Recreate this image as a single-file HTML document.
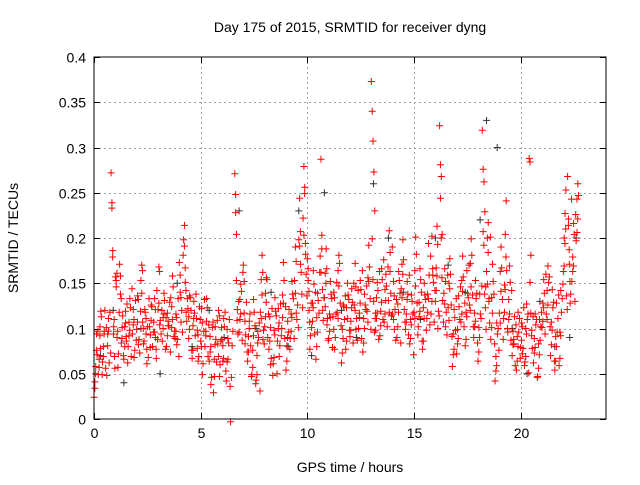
<!DOCTYPE html>
<html><head><meta charset="utf-8"><style>
body{margin:0;background:#fff;width:640px;height:480px;overflow:hidden}
svg text{font-family:"Liberation Sans",sans-serif;font-size:14px;fill:#000}
</style></head><body>
<svg id="chart" width="640" height="480">
<text x="350" y="32" text-anchor="middle">Day 175 of 2015, SRMTID for receiver dyng</text>
<text x="350" y="472" text-anchor="middle">GPS time / hours</text>
<text transform="translate(18,238) rotate(-90)" text-anchor="middle">SRMTID / TECUs</text>
<g id="grid"></g>
<g id="ticks"></g>
<g id="black"></g>
<g id="red"></g>
<rect x="94" y="57" width="512" height="362" fill="none" stroke="#000" stroke-width="1"/>
</svg>
<script>
const xTicks=[0,5,10,15,20];
const yTicks=[0,0.05,0.1,0.15,0.2,0.25,0.3,0.35,0.4];
const yTickLabels=["0","0.05","0.1","0.15","0.2","0.25","0.3","0.35","0.4"];
const redStart=0, redStep=0.2;
const redV=[
[0.02,0.04,0.06,0.09],[0.05,0.07,0.1,0.12],[0.06,0.08,0.1],[0.05,0.09,0.11],[0.27,0.24,0.19,0.1,0.07],
[0.16,0.15,0.09,0.06],[0.17,0.14,0.08,0.1],[0.07,0.1,0.12,0.09],[0.08,0.11,0.13],[0.09,0.12,0.07],
[0.1,0.14,0.08],[0.15,0.17,0.11,0.08],[0.12,0.09,0.06],[0.1,0.08,0.13],[0.11,0.13,0.09,0.07],
[0.12,0.17,0.1],[0.09,0.11,0.14],[0.08,0.12,0.1],[0.13,0.1,0.16],[0.09,0.12,0.08],
[0.17,0.14,0.11],[0.2,0.21,0.15,0.12],[0.12,0.09,0.14],[0.07,0.1,0.13],[0.11,0.08,0.06],
[0.09,0.12,0.05],[0.08,0.1,0.13],[0.06,0.09,0.04],[0.03,0.07,0.1],[0.08,0.12,0.05],
[0.09,0.06,0.11],[0.04,0.1,0.07],[0.0],[0.27,0.25,0.2,0.12],[0.1,0.13,0.15],
[0.17,0.12,0.08],[0.06,0.09,0.11],[0.05,0.08,0.13],[0.04,0.07,0.1],[0.12,0.15,0.18,0.09],
[0.1,0.14,0.16],[0.08,0.11,0.06],[0.06,0.1,0.13],[0.09,0.12,0.07],[0.1,0.14,0.17],
[0.05,0.08,0.11],[0.09,0.12,0.15],[0.15,0.19,0.12],[0.2,0.24,0.17],[0.22,0.28,0.26,0.18],
[0.18,0.15,0.12,0.08],[0.1,0.13,0.16],[0.07,0.11,0.14],[0.18,0.29,0.2,0.12],[0.13,0.16,0.19,0.1],
[0.09,0.12,0.15],[0.11,0.14,0.08],[0.12,0.16,0.18],[0.06,0.1,0.13],[0.08,0.12,0.15],
[0.09,0.11,0.14],[0.13,0.17,0.1],[0.1,0.12,0.15],[0.07,0.11,0.14],[0.12,0.16,0.19],
[0.37,0.34,0.31,0.27,0.23,0.12],[0.1,0.13,0.15],[0.09,0.12,0.17],[0.11,0.14,0.16],[0.13,0.21,0.18],
[0.12,0.15,0.1],[0.09,0.13,0.16],[0.14,0.17,0.2],[0.1,0.12,0.15],[0.08,0.11,0.14],
[0.12,0.16,0.2],[0.1,0.13,0.17],[0.08,0.12,0.15],[0.11,0.14,0.19],[0.12,0.2,0.16],
[0.13,0.17,0.21,0.1],[0.32,0.28,0.27,0.2],[0.14,0.17,0.1],[0.12,0.15,0.18],[0.06,0.09,0.12],
[0.07,0.1,0.14],[0.11,0.15,0.18],[0.08,0.12,0.16],[0.13,0.17,0.2],[0.09,0.12,0.15],
[0.06,0.1,0.14],[0.32,0.28,0.26,0.23,0.15],[0.16,0.2,0.22,0.13],[0.09,0.13,0.17],[0.04,0.07,0.11],
[0.12,0.16,0.19],[0.11,0.15,0.2,0.24],[0.1,0.13,0.17],[0.07,0.1,0.08],[0.05,0.09,0.12],
[0.08,0.11,0.07],[0.06,0.1,0.13],[0.29,0.28,0.18,0.1],[0.06,0.09,0.12],[0.05,0.08,0.11],
[0.1,0.13,0.15],[0.12,0.14,0.17],[0.07,0.11,0.14],[0.05,0.09,0.13],[0.06,0.1,0.14],
[0.16,0.2,0.23,0.25],[0.27,0.21,0.17,0.13],[0.15,0.18,0.22],[0.2,0.24,0.26]
];
const red2Start=0.1;
const redV2=[
[0.03,0.05,0.08,0.07,0.1],[0.06,0.09,0.08,0.11,0.05],[0.07,0.09,0.12,0.06,0.1],[0.08,0.1,0.06,0.12,0.07],[0.23,0.18,0.09,0.11,0.06],
[0.15,0.16,0.1,0.07,0.12],[0.16,0.13,0.09,0.11,0.07],[0.08,0.11,0.09,0.13,0.06],[0.09,0.1,0.12,0.07,0.14],[0.1,0.11,0.08,0.13,0.09],
[0.11,0.13,0.09,0.07,0.12],[0.14,0.16,0.1,0.09,0.12],[0.11,0.08,0.1,0.07,0.13],[0.09,0.11,0.12,0.08,0.1],[0.1,0.12,0.08,0.14,0.09],
[0.13,0.16,0.11,0.09,0.12],[0.1,0.12,0.13,0.08,0.11],[0.09,0.11,0.1,0.13,0.07],[0.12,0.11,0.15,0.09,0.1],[0.1,0.11,0.09,0.13,0.07],
[0.16,0.13,0.12,0.1,0.18],[0.19,0.17,0.14,0.11,0.13],[0.11,0.1,0.13,0.12,0.08],[0.08,0.11,0.12,0.09,0.14],[0.1,0.09,0.07,0.12,0.11],
[0.08,0.11,0.06,0.1,0.13],[0.09,0.11,0.12,0.07,0.1],[0.07,0.08,0.05,0.1,0.11],[0.05,0.08,0.09,0.06,0.11],[0.07,0.11,0.06,0.09,0.1],
[0.08,0.07,0.1,0.12,0.05],[0.06,0.09,0.08,0.11,0.04],[0.05,0.08,0.1],[0.23,0.15,0.11,0.09,0.13],[0.11,0.12,0.14,0.09,0.16],
[0.15,0.11,0.09,0.13,0.07],[0.07,0.1,0.12,0.08,0.05],[0.06,0.09,0.12,0.1,0.04],[0.05,0.08,0.09,0.11,0.03],[0.11,0.14,0.16,0.1,0.08],
[0.11,0.13,0.15,0.09,0.12],[0.09,0.1,0.07,0.12,0.05],[0.07,0.09,0.12,0.11,0.05],[0.1,0.11,0.08,0.13,0.09],[0.11,0.13,0.15,0.09,0.12],
[0.06,0.09,0.1,0.12,0.08],[0.1,0.11,0.14,0.13,0.09],[0.14,0.17,0.11,0.13,0.1],[0.19,0.21,0.16,0.14,0.12],[0.2,0.25,0.19,0.16,0.14],
[0.17,0.14,0.11,0.09,0.13],[0.11,0.12,0.15,0.09,0.14],[0.08,0.1,0.13,0.12,0.16],[0.16,0.19,0.14,0.11,0.13],[0.12,0.15,0.17,0.11,0.09],
[0.1,0.11,0.14,0.13,0.08],[0.1,0.13,0.09,0.12,0.15],[0.11,0.15,0.17,0.13,0.1],[0.07,0.09,0.12,0.11,0.14],[0.09,0.11,0.14,0.13,0.1],
[0.1,0.12,0.13,0.08,0.15],[0.12,0.15,0.11,0.09,0.14],[0.11,0.13,0.14,0.09,0.16],[0.08,0.1,0.13,0.12,0.15],[0.11,0.15,0.17,0.13,0.1],
[0.2,0.15,0.13,0.1,0.11],[0.11,0.12,0.14,0.09,0.16],[0.1,0.13,0.15,0.11,0.18],[0.12,0.13,0.15,0.1,0.17],[0.12,0.16,0.14,0.11,0.19],
[0.11,0.14,0.12,0.09,0.13],[0.1,0.12,0.15,0.14,0.08],[0.13,0.16,0.18,0.12,0.11],[0.11,0.13,0.14,0.09,0.16],[0.09,0.1,0.13,0.12,0.07],
[0.11,0.15,0.18,0.13,0.09],[0.11,0.12,0.15,0.14,0.09],[0.09,0.11,0.14,0.13,0.1],[0.12,0.13,0.16,0.1,0.18],[0.13,0.17,0.15,0.11,0.14],
[0.14,0.16,0.19,0.12,0.11],[0.24,0.2,0.16,0.13,0.11],[0.13,0.15,0.12,0.09,0.16],[0.11,0.14,0.16,0.13,0.09],[0.07,0.08,0.11,0.1,0.13],
[0.08,0.09,0.12,0.11,0.15],[0.12,0.14,0.16,0.1,0.13],[0.09,0.11,0.14,0.13,0.17],[0.12,0.15,0.18,0.14,0.1],[0.1,0.11,0.13,0.14,0.08],
[0.07,0.09,0.12,0.11,0.15],[0.21,0.19,0.14,0.12,0.1],[0.15,0.18,0.13,0.11,0.2],[0.1,0.12,0.15,0.14,0.08],[0.05,0.06,0.09,0.1,0.08],
[0.11,0.14,0.17,0.13,0.09],[0.12,0.14,0.18,0.16,0.1],[0.11,0.12,0.15,0.09,0.14],[0.08,0.09,0.11,0.06,0.1],[0.06,0.08,0.1,0.11,0.07],
[0.09,0.1,0.08,0.12,0.06],[0.07,0.09,0.11,0.12,0.05],[0.15,0.12,0.09,0.08,0.11],[0.07,0.08,0.1,0.11,0.05],[0.06,0.07,0.09,0.1,0.12],
[0.11,0.12,0.14,0.09,0.16],[0.11,0.13,0.15,0.16,0.1],[0.08,0.1,0.12,0.13,0.06],[0.06,0.08,0.1,0.11,0.14],[0.07,0.09,0.12,0.13,0.15],
[0.17,0.19,0.21,0.14,0.12],[0.22,0.19,0.15,0.14,0.24],[0.16,0.17,0.2,0.13,0.23],[0.21,0.22,0.25]
];
const blackT=[0.3,0.9,1.4,2.2,3.1,3.9,4.6,5.4,6.1,6.8,7.6,8.3,9.1,9.6,10.2,10.8,11.6,12.3,13.1,13.8,14.5,15.3,16.0,16.6,17.4,18.1,18.4,18.9,19.6,20.3,20.9,21.6,22.3,22.6];
const blackV=[0.07,0.12,0.04,0.1,0.05,0.15,0.08,0.12,0.09,0.23,0.1,0.14,0.08,0.23,0.07,0.25,0.12,0.09,0.26,0.2,0.14,0.11,0.2,0.17,0.14,0.22,0.33,0.3,0.1,0.05,0.13,0.08,0.09,0.2];
const X=t=>94+t*(512/24), Y=v=>419-v*905;
const NS="http://www.w3.org/2000/svg";
const grid=document.getElementById('grid'),ticks=document.getElementById('ticks');
function line(g,x1,y1,x2,y2,st,dash){const l=document.createElementNS(NS,'line');l.setAttribute('x1',x1);l.setAttribute('y1',y1);l.setAttribute('x2',x2);l.setAttribute('y2',y2);l.setAttribute('stroke',st);if(dash)l.setAttribute('stroke-dasharray',dash);g.appendChild(l);return l;}
function txt(g,x,y,s,a){const t=document.createElementNS(NS,'text');t.setAttribute('x',x);t.setAttribute('y',y);t.setAttribute('text-anchor',a);t.textContent=s;g.appendChild(t);return t;}
yTicks.forEach((v,i)=>{const y=Math.round(Y(v))+0.5;
 if(i>0&&i<yTicks.length-1){const gl=line(grid,94,y,606,y,'#a0a0a0','2,3');
 
 }
 line(ticks,94,y,100,y,'#000');line(ticks,606,y,600,y,'#000');
 const tl=txt(ticks,86,y+5,yTickLabels[i],'end');
 
 });
xTicks.forEach(t=>{const x=Math.round(X(t))+0.5;
 if(t>0){const gl=line(grid,x,57,x,419,'#a0a0a0','2,3');
 
 }
 line(ticks,x,419,x,413,'#000');line(ticks,x,57,x,63,'#000');
 const tl=txt(ticks,x,438,String(t),'middle');
 
 });
function plus(g,t,v,c,name,dy){const x=X(t),y=Y(v)+(dy||0);const p=document.createElementNS(NS,'path');
 p.setAttribute('d',`M${x-3.5} ${y}H${x+3.5}M${x} ${y-3.5}V${y+3.5}`);p.setAttribute('stroke',c);p.setAttribute('fill','none');
 
 
 g.appendChild(p);}
const bg=document.getElementById('black');
blackT.forEach((t,i)=>plus(bg,t,blackV[i],'#333','black-point'));
const rg=document.getElementById('red');
redV.forEach((vals,i)=>{const t=redStart+i*redStep;vals.forEach((v,j)=>plus(rg,t+j*0.04,v,'#f00','red-point',((i*5+j*3)%9-4)*0.9));});
redV2.forEach((vals,i)=>{const t=red2Start+i*redStep;vals.forEach((v,j)=>plus(rg,t-0.06+j*0.035,v,'#f00','red-point',((i*7+j*4)%9-4)*0.9));});
</script>
</body></html>
